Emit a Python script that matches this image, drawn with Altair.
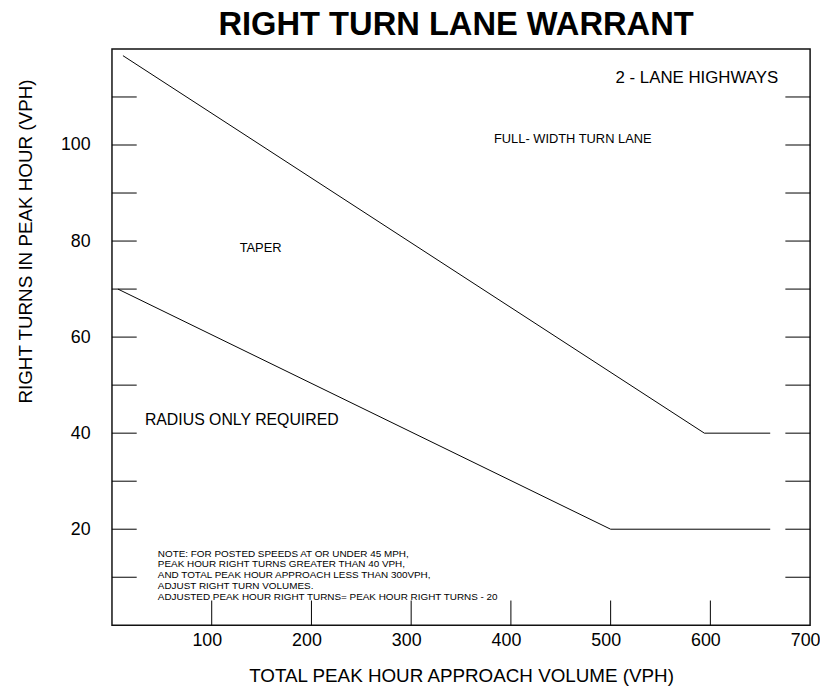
import altair as alt
import pandas as pd

# --- data ---
upper_x = [11, 594, 660]
upper_y = [118.6, 40, 40]
lower_x = [6, 500, 660]
lower_y = [70, 20, 20]

x_tick_values = [100, 200, 300, 400, 500, 600]
x_label_values = [100, 200, 300, 400, 500, 600, 700]
y_tick_values = [10, 20, 30, 40, 50, 60, 70, 80, 90, 100, 110]
y_label_values = [20, 40, 60, 80, 100]

ann_text = ["2 - LANE HIGHWAYS", "FULL- WIDTH TURN LANE", "TAPER", "RADIUS ONLY REQUIRED"]
ann_x = [668, 383, 128, 33]
ann_y = [114, 101.2, 78.5, 42.7]

note_lines = [
    "NOTE: FOR POSTED SPEEDS AT OR UNDER 45 MPH,",
    "PEAK HOUR RIGHT TURNS GREATER THAN 40 VPH,",
    "AND TOTAL PEAK HOUR APPROACH LESS THAN 300VPH,",
    "ADJUST RIGHT TURN VOLUMES.",
    "ADJUSTED PEAK HOUR RIGHT TURNS= PEAK HOUR RIGHT TURNS - 20",
]
note_x = 46
note_y = [14.9, 12.7, 10.5, 8.25, 5.85]

X_MAX = 700
Y_MAX = 120
TICK_X_LEN = 24.8   # data units of x for left/right ticks
TICK_Y_LEN = 5.15   # data units of y for bottom ticks

FONT = "Liberation Sans"
W, H = 705, 582

lines_df = pd.DataFrame({
    "x": upper_x + lower_x,
    "y": upper_y + lower_y,
    "series": ["upper"] * 3 + ["lower"] * 3,
    "order": [0, 1, 2, 0, 1, 2],
})

xs = alt.Scale(domain=[0, X_MAX], nice=False, zero=False)
ys = alt.Scale(domain=[0, Y_MAX], nice=False, zero=False)

x_axis = alt.Axis(
    values=x_label_values, ticks=False, domain=False, grid=False,
    labelFontSize=18, labelFont=FONT, labelColor="black", labelPadding=6,
    labelOffset=-5, labelFlush=False,
    title="TOTAL PEAK HOUR APPROACH VOLUME (VPH)", titleFont=FONT,
    titleFontSize=19, titleFontWeight="normal", titleColor="black",
    titleBaseline="alphabetic", titleY=57,
)
y_axis = alt.Axis(
    values=y_label_values, ticks=False, domain=False, grid=False,
    labelFontSize=18, labelFont=FONT, labelColor="black", labelPadding=22,
    title="RIGHT TURNS IN PEAK HOUR (VPH)", titleFont=FONT,
    titleFontSize=19, titleFontWeight="normal", titleColor="black",
    titleBaseline="alphabetic", titleAngle=270, titleX=-81, titleY=194,
    titleAlign="center",
)

base_lines = alt.Chart(lines_df).mark_line(color="black", strokeWidth=1).encode(
    x=alt.X("x:Q", scale=xs, axis=x_axis),
    y=alt.Y("y:Q", scale=ys, axis=y_axis),
    detail="series:N",
    order="order:Q",
)

xt = pd.DataFrame({"x": x_tick_values})
xticks = alt.Chart(xt).mark_rule(color="black", strokeWidth=1).encode(
    x=alt.X("x:Q", scale=xs),
    y=alt.datum(0),
    y2=alt.datum(TICK_Y_LEN),
)

yt = pd.DataFrame({"y": y_tick_values})
lticks = alt.Chart(yt).mark_rule(color="black", strokeWidth=1).encode(
    y=alt.Y("y:Q", scale=ys),
    x=alt.datum(0),
    x2=alt.datum(TICK_X_LEN),
)
rticks = alt.Chart(yt).mark_rule(color="black", strokeWidth=1).encode(
    y=alt.Y("y:Q", scale=ys),
    x=alt.datum(X_MAX - TICK_X_LEN),
    x2=alt.datum(X_MAX),
)

ann_df = pd.DataFrame({"t": ann_text, "x": ann_x, "y": ann_y})
ann_right = alt.Chart(ann_df.iloc[[0]]).mark_text(
    align="right", baseline="middle", font=FONT, fontSize=17, color="black"
).encode(x=alt.X("x:Q", scale=xs), y=alt.Y("y:Q", scale=ys), text="t:N")
ann_small = alt.Chart(ann_df.iloc[[1, 2]]).mark_text(
    align="left", baseline="middle", font=FONT, fontSize=13, color="black"
).encode(x=alt.X("x:Q", scale=xs), y=alt.Y("y:Q", scale=ys), text="t:N")
ann_radius = alt.Chart(ann_df.iloc[[3]]).mark_text(
    align="left", baseline="middle", font=FONT, fontSize=16, color="black"
).encode(x=alt.X("x:Q", scale=xs), y=alt.Y("y:Q", scale=ys), text="t:N")

note_df = pd.DataFrame({"t": note_lines, "y": note_y, "x": [note_x] * len(note_lines)})
notes = alt.Chart(note_df).mark_text(
    align="left", baseline="middle", font=FONT, fontSize=10, color="black"
).encode(x=alt.X("x:Q", scale=xs), y=alt.Y("y:Q", scale=ys), text="t:N")

chart = alt.layer(
    base_lines, xticks, lticks, rticks, ann_right, ann_small, ann_radius, notes
).properties(
    width=W, height=H,
    title=alt.TitleParams(
        "RIGHT TURN LANE WARRANT", font=FONT, fontSize=33, fontWeight="bold",
        color="black", anchor="middle", offset=7, dx=-5,
    ),
    autosize=alt.AutoSizeParams(type="none"),
    padding={"left": 105, "top": 38, "right": 10, "bottom": 60},
).configure_view(stroke="#111", strokeWidth=1.5)

chart.save("out.html", embed_options={"renderer": "svg", "actions": False})
